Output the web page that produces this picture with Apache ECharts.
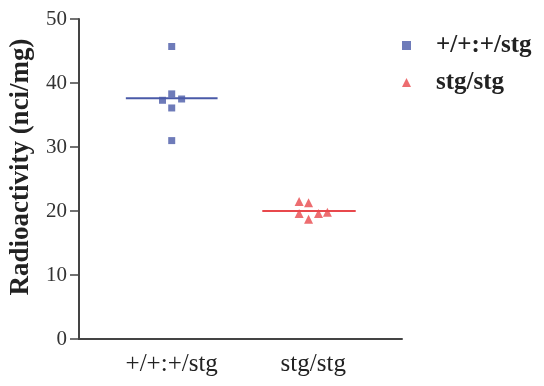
<!DOCTYPE html>
<html><head><meta charset="utf-8">
<script src="https://cdn.jsdelivr.net/npm/echarts@6/dist/echarts.min.js"></script>
<style>html,body{margin:0;padding:0;background:#fff}#c{width:544px;height:386px}</style>
</head><body><div id="c"></div>
<script>
var categories = ['+/+:+/stg', 'stg/stg'];
var seriesNames = ['+/+:+/stg', 'stg/stg'];
var yTicks = [0, 10, 20, 30, 40, 50];
// individual values
var wtValues = [45.7, 38.3, 37.3, 37.5, 36.1, 31.0];
var wtJitter = [0, 0, -0.065, 0.07, 0, 0];
var stgValues = [21.5, 21.3, 19.6, 18.7, 19.6, 19.8];
var stgJitter = [-0.1, -0.033, -0.1, -0.033, 0.037, 0.1];
var means = [37.6, 20.0];
var meanSpan = [[-0.324, 0.324], [-0.36, 0.30]];

var catPos = [1, 2];
function pts(vals, jit, c) { return vals.map(function (v, i) { return [catPos[c] + jit[i], v]; }); }
var serif = 'Liberation Serif';
var blue = '#4a5aa8', red = '#e8484c';

var chart = echarts.init(document.getElementById('c'), null, {renderer: 'canvas'});
chart.setOption({
  animation: false,
  grid: {left: 78, right: 142, top: 19, bottom: 47, containLabel: false},
  legend: {
    orient: 'vertical', left: 397, top: 28, itemGap: 12,
    itemWidth: 9, itemHeight: 9,
    textStyle: {fontFamily: serif, fontSize: 25, fontWeight: 'bold', color: '#222', padding: [0, 0, 0, 20]},
    data: [{name: seriesNames[0], icon: 'rect'}, {name: seriesNames[1], icon: 'triangle'}]
  },
  xAxis: {
    type: 'value', min: 0.345, max: 2.627,
    splitLine: {show: false},
    axisLine: {show: true, onZero: false, lineStyle: {color: '#444', width: 2}},
    axisTick: {show: false},
    axisLabel: {
      customValues: catPos, margin: 13,
      fontFamily: serif, fontSize: 25, color: '#222',
      formatter: function (v) { var i = catPos.indexOf(v); return i >= 0 ? categories[i] : ''; }
    }
  },
  yAxis: {
    type: 'value', min: 0, max: 50, interval: 10,
    name: 'Radioactivity (nci/mg)', nameLocation: 'middle', nameGap: 44,
    nameTextStyle: {fontFamily: serif, fontSize: 27, fontWeight: 'bold', color: '#222', padding: [0, 0, 0, 24]},
    splitLine: {show: false},
    axisLine: {show: true, onZero: false, lineStyle: {color: '#444', width: 2}},
    axisTick: {show: true, length: 9, lineStyle: {color: '#444', width: 1.5}},
    axisLabel: {fontFamily: serif, fontSize: 21, color: '#333', margin: 12,
      formatter: function (v) { return yTicks.indexOf(v) >= 0 ? String(v) : ''; }}
  },
  series: [
    {name: seriesNames[0], type: 'scatter', symbol: 'rect', symbolSize: 7,
     itemStyle: {color: blue}, data: pts(wtValues, wtJitter, 0), z: 3},
    {name: seriesNames[1], type: 'scatter', symbol: 'triangle', symbolSize: 9,
     itemStyle: {color: red}, data: pts(stgValues, stgJitter, 1), z: 3},
    {name: 'mean0', type: 'line', symbol: 'none', lineStyle: {color: blue, width: 2}, z: 2,
     data: [[catPos[0] + meanSpan[0][0], means[0]], [catPos[0] + meanSpan[0][1], means[0]]]},
    {name: 'mean1', type: 'line', symbol: 'none', lineStyle: {color: red, width: 2}, z: 2,
     data: [[catPos[1] + meanSpan[1][0], means[1]], [catPos[1] + meanSpan[1][1], means[1]]]}
  ]
});
</script></body></html>
